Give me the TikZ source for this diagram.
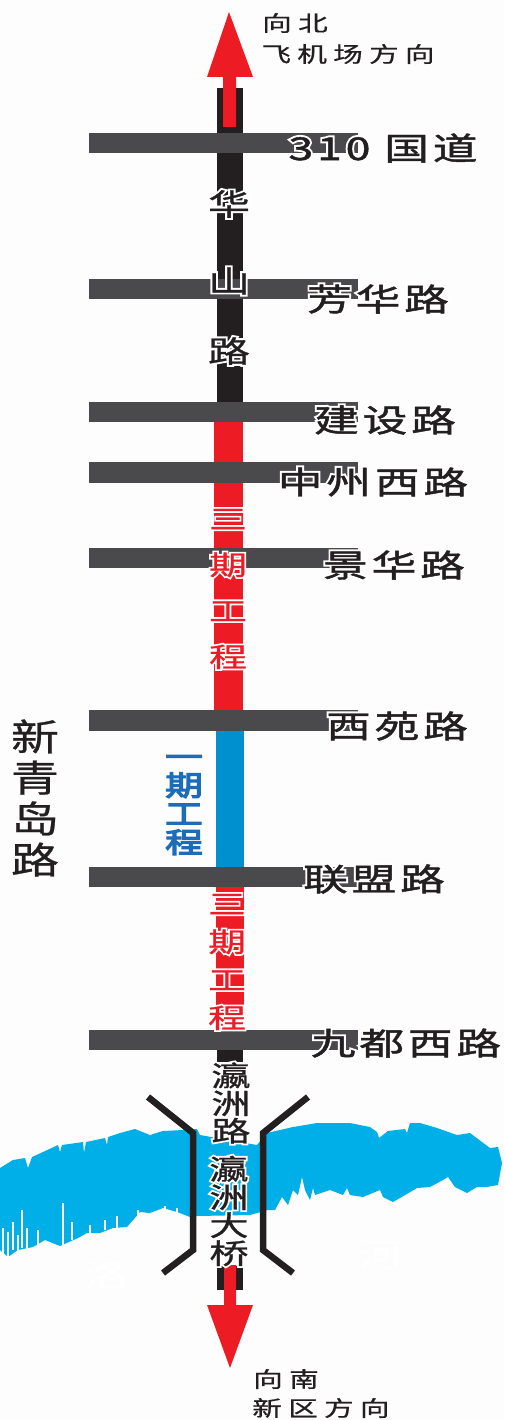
\documentclass[tikz,border=0pt]{standalone}
\usepackage{fontspec}
\setmainfont{Liberation Sans}
\newfontfamily\cjkw[FakeStretch=1.42,LetterSpace=12,FakeBold=1.5]{Noto Sans CJK SC}
\newfontfamily\cjkwh[FakeStretch=1.42,LetterSpace=12,FakeBold=14]{Noto Sans CJK SC}
\newfontfamily\cjkv[FakeStretch=1.4,FakeBold=1]{Noto Sans CJK SC}
\newfontfamily\cjkvh[FakeStretch=1.4,FakeBold=14]{Noto Sans CJK SC}
\newfontfamily\cjkf[FakeStretch=1.4]{Noto Sans CJK SC}
\newfontfamily\cjkn[FakeStretch=1.3,FakeBold=0.7]{Noto Sans CJK SC}
\newfontfamily\cjkb[FakeStretch=1.35,FakeBold=4.5]{Noto Sans CJK SC}
\newfontfamily\cjks[FakeStretch=1.38,LetterSpace=29,FakeBold=0.7]{Noto Sans CJK SC}
\definecolor{bgc}{HTML}{FDFDFD}
\definecolor{roadgray}{HTML}{4A4A4C}
\definecolor{roadblack}{HTML}{231F20}
\definecolor{roadred}{HTML}{ED1C24}
\definecolor{roadblue}{HTML}{0090D0}
\definecolor{riverblue}{HTML}{00AEE8}
\definecolor{labelblue}{HTML}{1C6CB8}
\tikzset{
  x=1pt,y=-1pt,
  txt/.style={inner sep=0pt,outer sep=0pt,align=center,anchor=center},
  crossroad/.style={fill=roadgray,draw=none},
  bank/.style={draw=roadblack,line width=6.5pt,line join=miter,miter limit=2},
  slit/.style={draw=bgc,line width=1.3pt},
}
% name, x, y, size, colour, text
\newcommand\wlabel[6]{%
  \node[txt,text=white,font={\fontsize{#4}{#4}\cjkwh}] at (#2,#3) {#6};
  \node[txt,text=#5,font={\fontsize{#4}{#4}\cjkw}] (#1) at (#2,#3) {#6};}
% name, x, y, size, baseline, colour, text
\newcommand\vlabel[7]{%
  \node[txt,text=white,font={\fontsize{#4}{#5}\cjkvh}] at (#2,#3) {#7};
  \node[txt,text=#6,font={\fontsize{#4}{#5}\cjkv}] (#1) at (#2,#3) {#7};}
\newcommand\crossroad[2]{\fill[crossroad] (89,#1) rectangle (358,#2);}
\begin{document}
\begin{tikzpicture}
\useasboundingbox (0,0) rectangle (504,1420);
\fill[bgc] (0,0) rectangle (504,1420);
% river
\fill[riverblue] (0,1168) -- (13,1160) -- (25,1158) -- (28,1168) -- (32,1157) -- (43,1152) -- (58,1145) -- (60,1152) -- (62,1145) -- (83,1142) -- (84,1153) -- (86,1142) -- (105,1138) -- (107,1145) -- (108,1137) -- (120,1133) -- (135,1129) -- (150,1135) -- (163,1131) -- (183,1130) -- (197,1129) -- (200,1135) -- (257,1145) -- (267,1133) -- (293,1127) -- (317,1123) -- (350,1123) -- (370,1127) -- (377,1132) -- (379,1138) -- (388,1131) -- (405,1129) -- (407,1133) -- (410,1123) -- (420,1123) -- (437,1128) -- (457,1135) -- (470,1133) -- (490,1148) -- (498,1147) -- (502,1163) -- (498,1185) -- (487,1187) -- (477,1187) -- (467,1193) -- (455,1187) -- (448,1177) -- (443,1180) -- (430,1187) -- (417,1188) -- (400,1198) -- (393,1202) -- (383,1197) -- (380,1190) -- (363,1197) -- (350,1195) -- (347,1188) -- (343,1195) -- (330,1190) -- (315,1195) -- (313,1188) -- (310,1200) -- (305,1190) -- (302,1177) -- (298,1195) -- (293,1190) -- (288,1205) -- (282,1197) -- (275,1210) -- (268,1210) -- (250,1215) -- (197,1216) -- (190,1217) -- (177,1212) -- (163,1208) -- (150,1213) -- (140,1212) -- (127,1227) -- (113,1228) -- (100,1233) -- (87,1233) -- (78,1238) -- (60,1246) -- (45,1240) -- (33,1247) -- (18,1250) -- (8,1257) -- (0,1250) -- cycle;
\foreach \sx/\sa/\sb in {3/1228/1256, 8/1232/1258, 13/1222/1250, 18/1235/1252, 22/1210/1248, 27/1228/1250, 38/1230/1245, 63/1203/1246, 72/1222/1240, 90/1225/1234, 105/1220/1230, 117/1216/1228, 138/1210/1224, 165/1206/1214, 177/1208/1216}
  \draw[slit] (\sx,\sa) -- (\sx,\sb);
\node[txt,text=white,font={\fontsize{33}{33}\cjkf}] (luo) at (107,1275) {洛};
\node[txt,text=white,font={\fontsize{33}{33}\cjkf}] (he) at (381,1255) {河};
% bridge banks
\draw[bank] (148,1097) -- (193,1133) -- (193,1250) -- (163,1273);
\draw[bank] (308,1097) -- (263,1133) -- (263,1250) -- (293,1273);
% main road
\fill[roadblack] (217,88) rectangle (243,402);
\fill[roadred] (214,422) rectangle (243,710);
\fill[roadblue] (216,731) rectangle (244,867);
\fill[roadred] (216,887) rectangle (244,1030);
\fill[roadblack] (217,1050) rectangle (243,1062);
\fill[roadblack] (217,1266) rectangle (243,1290);
% arrows
\fill[roadred] (229,12) -- (253,77) -- (236,77) -- (236,127) -- (223,127) -- (223,77) -- (207,77) -- cycle;
\fill[roadred] (230,1368) -- (207,1305) -- (224,1305) -- (224,1265) -- (236,1265) -- (236,1305) -- (253,1305) -- cycle;
% cross roads
\crossroad{133}{153}
\crossroad{279}{299}
\crossroad{402}{422}
\crossroad{462}{483}
\crossroad{548}{568}
\crossroad{710}{731}
\crossroad{867}{887}
\crossroad{1030}{1050}
% direction labels
\node[txt,text=roadblack,font={\fontsize{21.5}{21.5}\cjks}] (north) at (295,23) {向北};
\node[txt,text=roadblack,font={\fontsize{21.5}{21.5}\cjks}] (airport) at (348,54) {飞机场方向};
\node[txt,text=roadblack,font={\fontsize{21.5}{21.5}\cjks}] (south) at (286,1379) {向南};
\node[txt,text=roadblack,font={\fontsize{21.5}{21.5}\cjks}] (newarea) at (321,1408) {新区方向};
% road labels
\wlabel{n310}{383}{148}{31.5}{roadblack}{310 国道}
\wlabel{nfang}{378}{299}{31.5}{roadblack}{芳华路}
\wlabel{njian}{385}{420}{31.5}{roadblack}{建设路}
\wlabel{nzhong}{373}{482}{31.5}{roadblack}{中州西路}
\wlabel{njing}{394}{565}{31.5}{roadblack}{景华路}
\wlabel{nxi}{397}{726}{31.5}{roadblack}{西苑路}
\wlabel{nlian}{374}{879}{31.5}{roadblack}{联盟路}
\wlabel{njiu}{406}{1043}{31.5}{roadblack}{九都西路}
% vertical labels
\vlabel{nhua}{229}{204}{30}{30}{roadblack}{华}
\vlabel{nshan}{229}{281}{30}{30}{roadblack}{山}
\vlabel{nlu}{229}{351}{30}{30}{roadblack}{路}
\vlabel{phase3a}{228}{589}{27}{46}{roadred}{三\\期\\工\\程}
\vlabel{phase3b}{227}{962}{27}{38}{roadred}{三\\期\\工\\程}
\node[txt,text=labelblue,font={\fontsize{28}{28.5}\cjkb}] (phase1) at (184,805) {一\\期\\工\\程};
\node[txt,text=roadblack,font={\fontsize{37}{41}\cjkn}] (xinqingdao) at (35,798) {新\\青\\岛\\路};
\vlabel{yingroad}{231}{1103}{28}{27.5}{roadblack}{瀛\\洲\\路}
\vlabel{yingbridge}{229}{1211}{28}{28}{roadblack}{瀛\\洲\\大\\桥}
\end{tikzpicture}
\end{document}
